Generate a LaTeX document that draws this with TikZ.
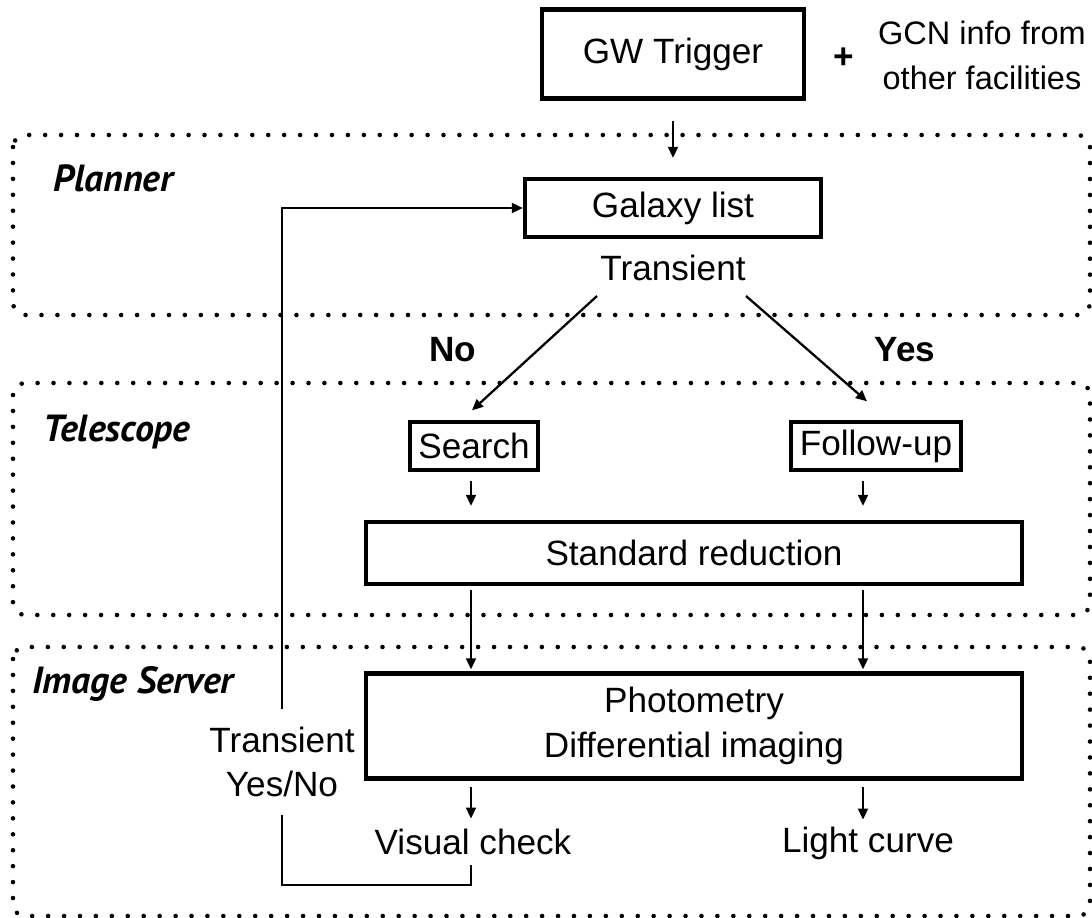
\documentclass[tikz,border=0pt]{standalone}
\usepackage{fontspec}
\setmainfont{Liberation Sans}
\newfontfamily\labelfont{PT Sans}
\usetikzlibrary{arrows.meta}

\tikzset{
  region/.style={line width=2.6pt, dash pattern=on 0pt off 9.07pt, line cap=round, rounded corners=0.24cm},
  box/.style={draw, line width=2.4pt, inner sep=0pt},
  smallbox/.style={draw, line width=1.9pt, inner sep=0pt, minimum height=0.96cm},
  txt/.style={inner sep=0pt},
  bold/.style={inner sep=0pt, font=\bfseries\fontsize{20}{25.5}\selectfont},
  lbl/.style={anchor=base west, inner sep=0pt, font=\labelfont\bfseries\itshape\fontsize{21.5}{25}\selectfont},
  arr/.style={line width=1.3pt, -{Triangle[length=6.3pt,width=5.6pt]}},
  link/.style={line width=1.3pt}
}

\begin{document}
\begin{tikzpicture}[x=0.02cm, y=-0.02cm, font=\fontsize{20}{25.5}\selectfont]
    \useasboundingbox (0,0) rectangle (1092,918);

    % trigger
    \node[box, minimum width=5.24cm, minimum height=1.78cm] (gw) at (673,54) {GW Trigger};
    \node[bold] (plus) at (844,58) {+};
    \node[txt, align=center, font=\fontsize{18.5}{25.5}\selectfont] (gcn) at (982,55) {GCN info from\\other facilities};

    % regions
    \draw[region] (13,135) rectangle (1090,315);
    \draw[region] (13,383) rectangle (1090,615);
    \draw[region] (13,647) rectangle (1090,916);
    \node[lbl] (planner) at (53,192) {Planner};
    \node[lbl] (telescope) at (43,442) {Telescope};
    \node[lbl] (imgserver) at (32,693) {Image Server};

    \node[box, minimum width=5.92cm, minimum height=1.16cm] (galaxy) at (673,208) {Galaxy list};
    \node[txt] (trans) at (673,268) {Transient};
    \node[bold] (no) at (453,350) {No};
    \node[bold] (yes) at (905,350) {Yes};
    \node[smallbox, minimum width=2.56cm] (search) at (474,446) {Search};
    \node[smallbox, minimum width=3.4cm] (follow) at (876,446) {Follow-up};
    \node[box, minimum width=13.12cm, minimum height=1.24cm] (stdred) at (694,553) {Standard reduction};
    \node[box, minimum width=13.12cm, minimum height=2.1cm, align=center] (phot) at (694,726) {Photometry\\Differential imaging};
    \node[txt, minimum height=0.92cm] (visual) at (473,842) {Visual check};
    \node[txt, minimum height=0.92cm] (light) at (868,843) {Light curve};
    \node[txt, minimum height=2.1cm, align=center] (fbnote) at (282,762) {Transient\\Yes/No};

    \coordinate (colL) at (471,0);
    \coordinate (colR) at (863,0);
    \coordinate (fbbot) at (282,885);

    \draw[arr, shorten <=0.4cm, shorten >=0.38cm] (gw) -- (galaxy);
    \draw[arr] ([shift={(-76,28)}]trans.center) -- ([shift={(-2,-10)}]search.north);
    \draw[arr] ([shift={(73,28)}]trans.center) -- ([shift={(-9,-19)}]follow.north);
    \draw[arr, shorten <=0.18cm, shorten >=0.28cm] (search.south -| colL) -- (stdred.north -| colL);
    \draw[arr, shorten <=0.18cm, shorten >=0.28cm] (follow.south -| colR) -- (stdred.north -| colR);
    \draw[arr, shorten <=0.08cm, shorten >=0.04cm] (stdred.south -| colL) -- (phot.north -| colL);
    \draw[arr, shorten <=0.08cm, shorten >=0.04cm] (stdred.south -| colR) -- (phot.north -| colR);
    \draw[arr, shorten <=0.12cm] (phot.south -| colL) -- (visual.north -| colL);
    \draw[arr, shorten <=0.12cm] (phot.south -| colR) -- (light.north -| colR);
    % feedback loop
    \draw[link] (visual.south -| colL) |- (fbbot) -- (fbnote.south);
    \draw[arr] (fbnote.north) |- (galaxy.west);
\end{tikzpicture}
\end{document}
